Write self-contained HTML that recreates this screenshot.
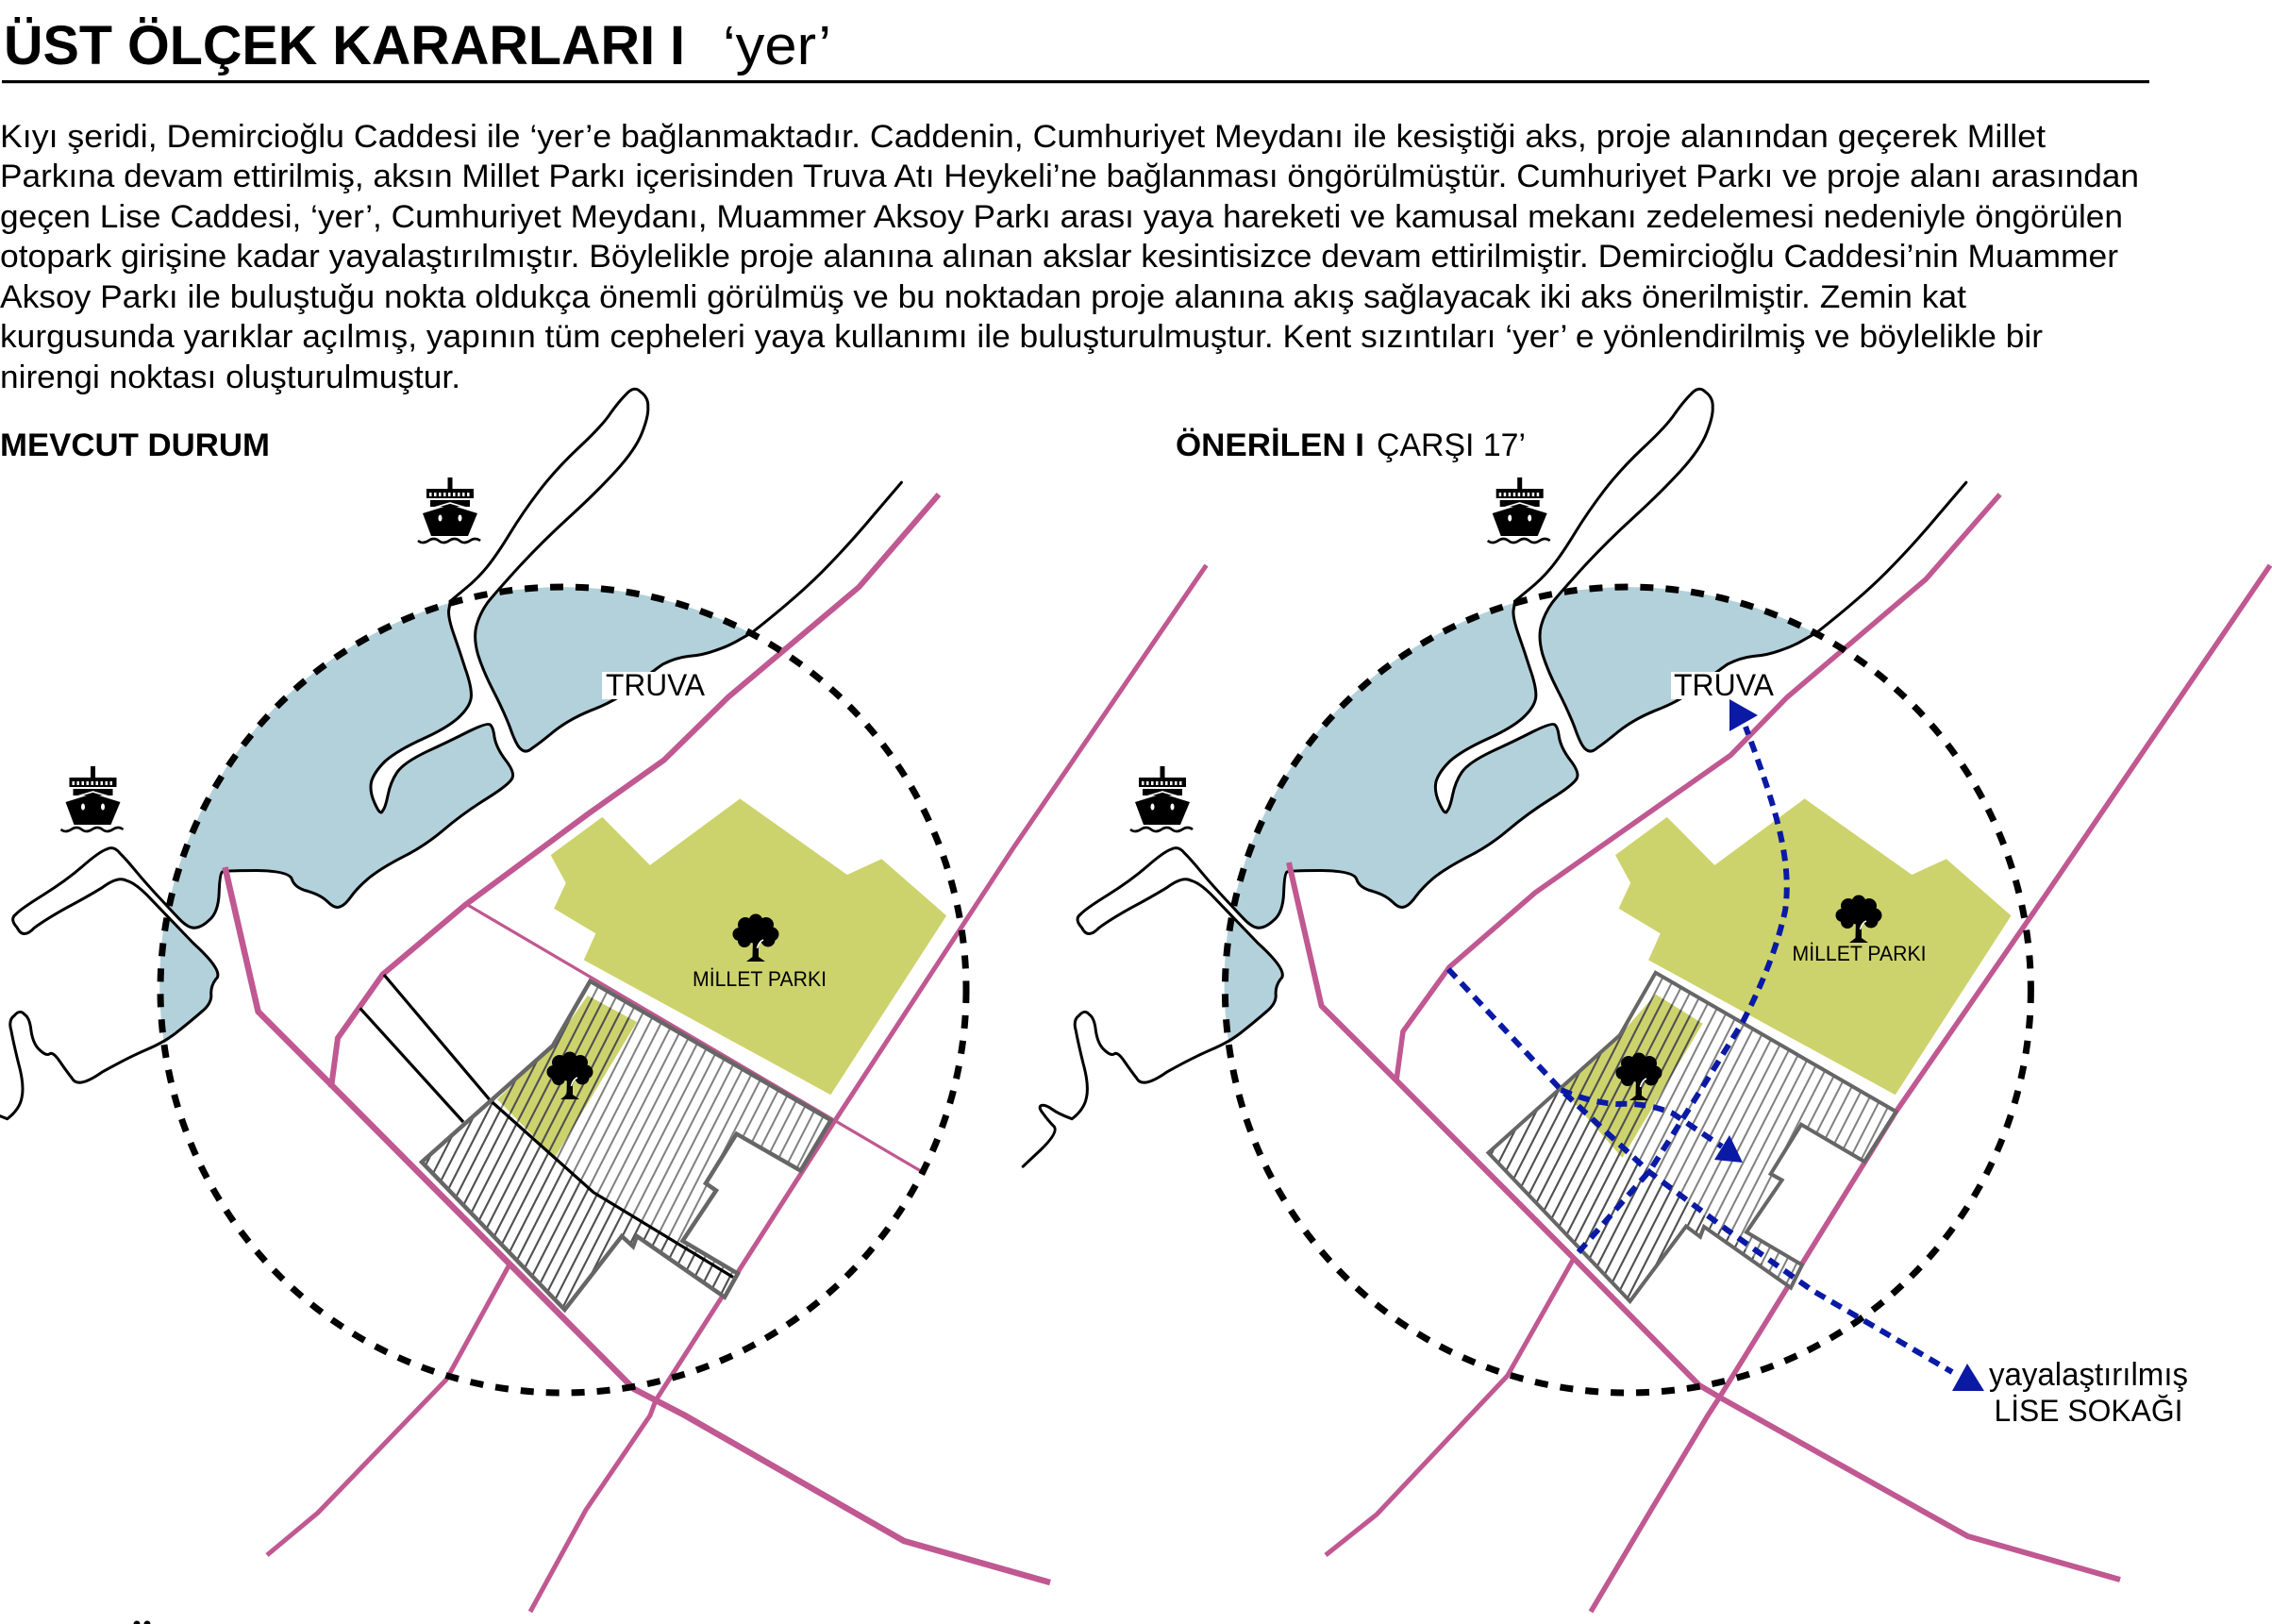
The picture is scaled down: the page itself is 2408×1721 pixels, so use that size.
<!DOCTYPE html>
<html lang="tr">
<head>
<meta charset="utf-8">
<title>ÜST ÖLÇEK KARARLARI</title>
<style>
html,body{margin:0;padding:0;background:#fff;}
svg{display:block;}
text{font-family:"Liberation Sans","Noto Sans CJK SC",sans-serif;fill:#000;}
.ns{vector-effect:non-scaling-stroke;}
.road{fill:none;stroke:#c05891;stroke-linejoin:miter;}
.blue{fill:none;stroke:#0a1aa5;stroke-width:6;stroke-dasharray:12 8;}
</style>
</head>
<body>
<svg xmlns="http://www.w3.org/2000/svg" width="2408" height="1721" viewBox="0 0 2408 1721">
<defs>
  <pattern id="hg" patternUnits="userSpaceOnUse" width="11" height="20" patternTransform="rotate(27)">
    <rect x="4.5" y="0" width="2" height="20" fill="#808080"/>
  </pattern>
  <pattern id="hd" patternUnits="userSpaceOnUse" width="11" height="20" patternTransform="rotate(27)">
    <rect x="4.5" y="0" width="2" height="20" fill="#505050"/>
  </pattern>
  <g id="coast">
    <path class="ns" fill="#b3d1da" d="M680 468 L678 484 Q677 500 686 535 Q695 570 703 605 Q712 640 712 660 Q712 680 696 702 Q680 725 640 750 Q600 775 582 797 Q565 820 561 840 Q558 860 566 884 Q575 912 578 900 Q582 895 586 868 Q590 840 600 820 Q610 800 645 777 Q680 755 707 736 Q735 717 740 721 Q745 725 747 747 Q750 770 764 795 Q778 820 774 832 Q770 845 735 875 Q700 905 670 940 Q640 975 607 997 Q575 1020 557 1040 Q540 1060 530 1079 Q520 1098 512 1100 Q505 1103 495 1089 Q485 1075 465 1067 Q445 1060 441 1042 Q437 1025 388 1024 Q340 1024 336 1027 Q332 1030 331 1070 Q330 1110 317 1126 Q305 1142 295 1143 Q285 1145 271 1125 Q262 1112 254 1100 A609 837 0 0 1 680 468 Z"/>
    <path class="ns" fill="#b3d1da" d="M750 447 L737 467 Q725 490 720 515 Q715 540 722 575 Q730 610 745 650 Q760 690 770 725 Q780 765 787 772 Q795 782 805 769 Q815 760 837 735 Q860 710 892 692 Q925 675 950 650 Q981 615 1001 596 Q1021 582 1041 579 Q1061 577 1081 567 Q1101 558 1118 544 L1135 532 A609 837 0 0 0 750 447 Z"/>
    <path class="ns" fill="#b3d1da" d="M250 1118 L292 1175 Q340 1235 326 1250 Q318 1265 319 1282 Q320 1300 305 1317 Q290 1335 270 1357 L248 1385 A609 837 0 0 1 250 1118 Z"/>
    <g fill="none" stroke="#000" stroke-width="3" stroke-linejoin="round" stroke-linecap="round">
      <path class="ns" d="M680 465 L700 442 Q720 420 735 395 Q750 370 770 325 Q790 280 815 235 Q840 190 875 145 Q910 100 922 75 Q935 50 946 35 Q958 16 968 30 Q980 42 979 62 Q980 80 970 115 Q960 150 930 195 Q900 240 860 290 Q820 340 785 392 Q750 445 737 467 Q725 490 720 515 Q715 540 722 575 Q730 610 745 650 Q760 690 770 725 Q780 765 787 772 Q795 782 805 769 Q815 760 837 735 Q860 710 892 692 Q925 675 950 650 Q981 615 1001 596 Q1021 582 1041 579 Q1061 577 1081 567 Q1101 558 1118 544 L1136 530 Q1201 460 1241 405 Q1281 350 1321 284 L1362 218"/>
      <path class="ns" d="M680 468 L678 484 Q677 500 686 535 Q695 570 703 605 Q712 640 712 660 Q712 680 696 702 Q680 725 640 750 Q600 775 582 797 Q565 820 561 840 Q558 860 566 884 Q575 912 578 900 Q582 895 586 868 Q590 840 600 820 Q610 800 645 777 Q680 755 707 736 Q735 717 740 721 Q745 725 747 747 Q750 770 764 795 Q778 820 774 832 Q770 845 735 875 Q700 905 670 940 Q640 975 607 997 Q575 1020 557 1040 Q540 1060 530 1079 Q520 1098 512 1100 Q505 1103 495 1089 Q485 1075 465 1067 Q445 1060 441 1042 Q437 1025 388 1024 Q340 1024 336 1027 Q332 1030 331 1070 Q330 1110 317 1126 Q305 1142 295 1143 Q285 1145 271 1125 Q262 1112 254 1100 L239 1078 Q220 1050 205 1025 Q190 1000 181 988 Q172 972 161 980 Q150 985 125 1015 Q100 1045 65 1075 Q30 1105 24 1115 Q14 1125 26 1143 Q35 1168 52 1143 Q70 1125 100 1102 Q130 1080 154 1060 Q178 1035 191 1045 Q205 1050 227 1082 Q250 1115 292 1175 Q340 1235 326 1250 Q318 1265 319 1282 Q320 1300 305 1317 Q290 1335 270 1357 Q250 1380 220 1397 Q190 1415 154 1443 Q118 1478 109 1456 Q100 1440 90 1420 Q80 1400 75 1405 Q70 1410 60 1397 Q50 1385 47 1357 Q45 1330 37 1323 Q30 1312 22 1325 Q12 1335 17 1357 Q20 1380 28 1425 Q37 1470 33 1495 Q30 1520 11 1540 Q-9 1530 -19 1520 Q-29 1510 -35 1512 Q-41 1515 -32 1530 Q-24 1545 -16 1556 Q-9 1568 -36 1604 L-63 1639"/>
    </g>
    <path fill="#cdd36c" d="M1118 875 L1280 1033 L1332 1000 L1430 1118 L1255 1490 L882 1210 L900 1155 L837 1103 L855 1050 L832 992 L910 913 L982 1013 Z"/>
  </g>
  <g id="tree">
    <g fill="#000">
      <circle cx="25" cy="8" r="7.5"/><circle cx="14" cy="12" r="8"/><circle cx="36" cy="12" r="8"/>
      <circle cx="7.5" cy="22" r="7"/><circle cx="42" cy="22" r="7.5"/><circle cx="13" cy="29" r="7"/>
      <circle cx="38" cy="28" r="7.5"/><circle cx="25" cy="20" r="12"/>
      <path d="M22 26 L28 26 L28 46 L35 51 L15 51 L21.5 46 Z"/>
    </g>
    <path d="M26.5 37 Q28 30 33 28" fill="none" stroke="#fff" stroke-width="1.5"/>
  </g>
  <g id="ship">
    <rect x="31.5" y="0" width="5" height="13" fill="#000"/>
    <rect x="9" y="12" width="50" height="10" fill="#000"/>
    <g fill="#fff">
      <rect x="12" y="16" width="2.5" height="4"/><rect x="17" y="16" width="2.5" height="4"/><rect x="22" y="16" width="2.5" height="4"/><rect x="27" y="16" width="2.5" height="4"/><rect x="32" y="16" width="2.5" height="4"/><rect x="37" y="16" width="2.5" height="4"/><rect x="42" y="16" width="2.5" height="4"/><rect x="47" y="16" width="2.5" height="4"/><rect x="52" y="16" width="2.5" height="4"/>
    </g>
    <rect x="13" y="24" width="42" height="7" fill="#000"/>
    <path d="M5 38 L34 29 L63 38 L53 62 L14 62 Z" fill="#000"/>
    <path d="M7 35 L34 27 L61 35" fill="none" stroke="#fff" stroke-width="1.6"/>
    <ellipse cx="23.5" cy="43" rx="2" ry="3.5" fill="#fff"/>
    <ellipse cx="44.5" cy="43" rx="2" ry="3.5" fill="#fff"/>
    <path d="M0 67 Q5 71 11 67 T22 67 T33 67 T44 67 T55 67 T66 67" fill="none" stroke="#000" stroke-width="2.6"/>
  </g>
</defs>

<rect width="2408" height="1721" fill="#fff"/>

<!-- Title -->
<text x="4" y="68" font-size="58" font-weight="700" textLength="722" lengthAdjust="spacingAndGlyphs">ÜST ÖLÇEK KARARLARI I</text>
<text x="766" y="68" font-size="58" textLength="115" lengthAdjust="spacingAndGlyphs">‘yer’</text>
<rect x="2" y="85" width="2276" height="3.2" fill="#000"/>

<!-- Body -->
<g font-size="34">
<text x="0" y="156" textLength="2168" lengthAdjust="spacingAndGlyphs">Kıyı şeridi, Demircioğlu Caddesi ile ‘yer’e bağlanmaktadır. Caddenin, Cumhuriyet Meydanı ile kesiştiği aks, proje alanından geçerek Millet</text>
<text x="0" y="198" textLength="2267" lengthAdjust="spacingAndGlyphs">Parkına devam ettirilmiş, aksın Millet Parkı içerisinden Truva Atı Heykeli’ne bağlanması öngörülmüştür. Cumhuriyet Parkı ve proje alanı arasından</text>
<text x="0" y="241" textLength="2250" lengthAdjust="spacingAndGlyphs">geçen Lise Caddesi, ‘yer’, Cumhuriyet Meydanı, Muammer Aksoy Parkı arası yaya hareketi ve kamusal mekanı zedelemesi nedeniyle öngörülen</text>
<text x="0" y="283" textLength="2245" lengthAdjust="spacingAndGlyphs">otopark girişine kadar yayalaştırılmıştır. Böylelikle proje alanına alınan akslar kesintisizce devam ettirilmiştir. Demircioğlu Caddesi’nin Muammer</text>
<text x="0" y="326" textLength="2084" lengthAdjust="spacingAndGlyphs">Aksoy Parkı ile buluştuğu nokta oldukça önemli görülmüş ve bu noktadan proje alanına akış sağlayacak iki aks önerilmiştir. Zemin kat</text>
<text x="0" y="368" textLength="2165" lengthAdjust="spacingAndGlyphs">kurgusunda yarıklar açılmış, yapının tüm cepheleri yaya kullanımı ile buluşturulmuştur. Kent sızıntıları ‘yer’ e yönlendirilmiş ve böylelikle bir</text>
<text x="0" y="411" textLength="488" lengthAdjust="spacingAndGlyphs">nirengi noktası oluşturulmuştur.</text>
</g>

<text x="0" y="483" font-size="34" font-weight="700" textLength="286" lengthAdjust="spacingAndGlyphs">MEVCUT DURUM</text>
<text x="1246" y="483" font-size="34" font-weight="700" textLength="200" lengthAdjust="spacingAndGlyphs">ÖNERİLEN I</text>
<text x="1459" y="483" font-size="34" textLength="158" lengthAdjust="spacingAndGlyphs">ÇARŞI 17’</text>

<!-- Coast & water & park (both maps) -->
<g transform="translate(0 400) scale(.7015 .5102)"><use href="#coast"/></g>
<g transform="translate(1128.4 400) scale(.7015 .5102)"><use href="#coast"/></g>

<!-- LEFT roads -->
<polyline class="road" stroke-width="6" points="995,524 910.5,622 771.6,739 703.6,805.6 624,862 493,959 405.5,1032.7 358,1100 351,1152.5"/>
<polyline class="road" stroke-width="6.5" points="238.5,919 273.6,1072 354,1152.5 672,1472 726,1500 958,1633 1113,1677"/>
<polyline class="road" stroke-width="5" points="1278.5,599 1073,900 884,1189 695,1484 689,1500 621,1600 562,1708"/>
<polyline class="road" stroke-width="5" points="540,1340 473,1462 337,1603 283,1648"/>
<line class="road" stroke-width="3.2" x1="494" y1="958" x2="981" y2="1244"/>

<!-- RIGHT roads -->
<polyline class="road" stroke-width="5.5" points="2119.6,524 2041,614 1894,739 1834,800.5 1627,946 1536,1025 1487,1093 1480,1145"/>
<polyline class="road" stroke-width="6" points="1366,914 1400.6,1066 1480,1145 1668,1333.5 1801,1468 1822.5,1480.7 2085.5,1628 2247,1674"/>
<polyline class="road" stroke-width="5.5" points="2406,599 2167,950 2009.5,1178 1822.5,1480.7 1810,1500 1750,1600 1686,1708"/>
<polyline class="road" stroke-width="5" points="1668,1333.5 1597.6,1458 1459,1605 1405,1648"/>

<!-- LEFT building -->
<path fill="#fff" d="M625.5 1039.7 L880.6 1187 L848.5 1240.6 L780.6 1201.6 L748 1254 L759 1261.6 L723.5 1315 L782 1349.7 L768 1374.6 L675 1310 L671 1321 L659 1310 L598.5 1388 L447 1231.5 L586 1108 Z"/>
<path fill="#cdd36c" d="M622.7 1055 L675 1083 L588 1227 L527 1165 L586 1108 Z"/>
<path fill="url(#hg)" d="M625.5 1039.7 L880.6 1187 L848.5 1240.6 L780.6 1201.6 L748 1254 L759 1261.6 L723.5 1315 L782 1349.7 L768 1374.6 L675 1310 L671 1321 L659 1310 L598.5 1388 L447 1231.5 L586 1108 Z"/>
<path fill="url(#hd)" d="M519.4 1166 L629 1263.6 L777 1353.5 L768 1374.6 L675 1310 L671 1321 L659 1310 L598.5 1388 L447 1231.5 Z"/>
<path fill="url(#hd)" d="M622.7 1055 L675 1083 L588 1227 L527 1165 L586 1108 Z"/>
<g fill="none" stroke="#000" stroke-width="3.2">
  <polyline points="407,1033 519.4,1166 629,1263.6 777,1353.5"/>
  <line x1="381.6" y1="1068.4" x2="491" y2="1189"/>
</g>
<path fill="none" stroke="#666" stroke-width="4.5" stroke-linejoin="miter" d="M625.5 1039.7 L880.6 1187 L848.5 1240.6 L780.6 1201.6 L748 1254 L759 1261.6 L723.5 1315 L782 1349.7 L768 1374.6 L675 1310 L671 1321 L659 1310 L598.5 1388 L447 1231.5 L586 1108 Z"/>

<!-- RIGHT building -->
<path fill="#fff" d="M1754.7 1030.8 L2009.5 1178 L1976 1231 L1909 1191.7 L1876.7 1244 L1888.6 1250.6 L1851 1305.7 L1910 1340.5 L1898 1364.6 L1806 1300 L1802 1310.7 L1787 1299.5 L1727.6 1379 L1577.5 1221.6 L1716.8 1097 Z"/>
<path fill="#cdd36c" d="M1754.7 1053.6 L1804.6 1084.7 L1719.5 1227 L1654.5 1153 L1716.8 1097 Z"/>
<path fill="url(#hg)" d="M1754.7 1030.8 L2009.5 1178 L1976 1231 L1909 1191.7 L1876.7 1244 L1888.6 1250.6 L1851 1305.7 L1910 1340.5 L1898 1364.6 L1806 1300 L1802 1310.7 L1787 1299.5 L1727.6 1379 L1577.5 1221.6 L1716.8 1097 Z"/>
<path fill="url(#hd)" d="M1654.5 1155 L1749 1240 L1898 1364.6 L1806 1300 L1802 1310.7 L1787 1299.5 L1727.6 1379 L1577.5 1221.6 Z"/>
<path fill="url(#hd)" d="M1754.7 1053.6 L1804.6 1084.7 L1719.5 1227 L1654.5 1153 L1716.8 1097 Z"/>
<path fill="none" stroke="#666" stroke-width="4" stroke-linejoin="miter" d="M1754.7 1030.8 L2009.5 1178 L1976 1231 L1909 1191.7 L1876.7 1244 L1888.6 1250.6 L1851 1305.7 L1910 1340.5 L1898 1364.6 L1806 1300 L1802 1310.7 L1787 1299.5 L1727.6 1379 L1577.5 1221.6 L1716.8 1097 Z"/>

<!-- Dashed rings -->
<circle cx="597" cy="1049" r="427" fill="none" stroke="#000" stroke-width="7" stroke-dasharray="14 13"/>
<circle cx="1725.4" cy="1049" r="427" fill="none" stroke="#000" stroke-width="7" stroke-dasharray="14 13"/>

<!-- Trees -->
<use href="#tree" x="776" y="968"/>
<use href="#tree" x="579" y="1114"/>
<use href="#tree" x="1945" y="948"/>
<use href="#tree" x="1712" y="1115"/>

<!-- Ships -->
<use href="#ship" x="443" y="506"/>
<use href="#ship" x="64.5" y="812"/>
<use href="#ship" x="1576.7" y="506"/>
<use href="#ship" x="1198" y="812"/>

<!-- Blue pedestrian axes -->
<path class="blue" d="M1535 1027 L1654.5 1155 L1748 1242 L1830 1303 L1920 1367 L2069 1454"/>
<path class="blue" d="M1654.5 1155 Q1684 1168 1713 1170 Q1745 1168 1773 1180 L1825 1215"/>
<path class="blue" d="M1673 1327 L1749 1240 Q1800 1160 1847 1083 Q1880 1020 1892 965 C1900 910 1880 850 1850 770"/>
<polygon fill="#0a1aa5" points="2085,1445 2103,1474 2069,1474"/>
<polygon fill="#0a1aa5" points="1833,1203 1847,1232 1817,1229"/>
<polygon fill="#0a1aa5" points="1833,741 1863,758 1833,775"/>

<!-- Labels -->
<rect x="638" y="712" width="109" height="29" fill="#fff"/>
<text x="642" y="737" font-size="32" textLength="105" lengthAdjust="spacingAndGlyphs">TRUVA</text>
<rect x="1771" y="712" width="110" height="29" fill="#fff"/>
<text x="1774" y="737" font-size="32" textLength="106" lengthAdjust="spacingAndGlyphs">TRUVA</text>
<text x="734" y="1045" font-size="22" textLength="142" lengthAdjust="spacingAndGlyphs">MİLLET PARKI</text>
<text x="1899.5" y="1018" font-size="22" textLength="142" lengthAdjust="spacingAndGlyphs">MİLLET PARKI</text>
<text x="2108" y="1468" font-size="34" textLength="211" lengthAdjust="spacingAndGlyphs">yayalaştırılmış</text>
<text x="2113.5" y="1506" font-size="32" textLength="200" lengthAdjust="spacingAndGlyphs">LİSE SOKAĞI</text>

<!-- clipped next-page glyph dots at bottom edge -->
<circle cx="145" cy="1721" r="3.5" fill="#000"/>
<circle cx="156" cy="1721" r="3.5" fill="#000"/>
</svg>
</body>
</html>
